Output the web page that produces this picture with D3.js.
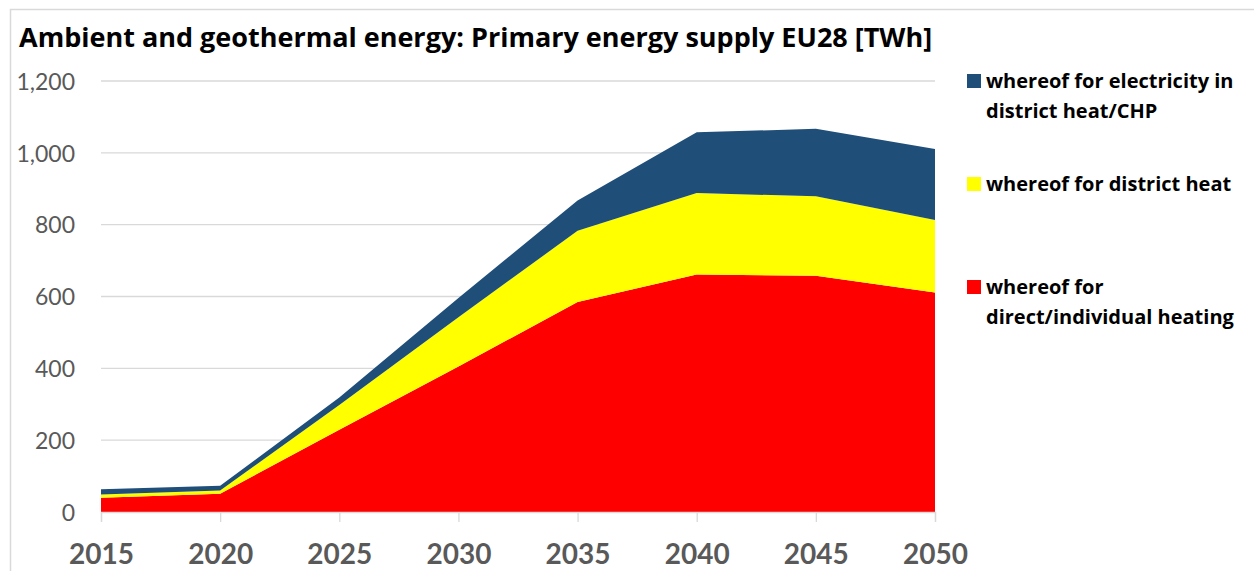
<!DOCTYPE html>
<html><head><meta charset="utf-8">
<script src="https://cdn.jsdelivr.net/npm/d3@7"></script>
<style>body{margin:0;background:#fff}svg{display:block}</style>
</head><body>
<svg id="c" width="1254" height="571"></svg>
<script>
const years = [2015, 2020, 2025, 2030, 2035, 2040, 2045, 2050];
const directHeating = [40, 51, 229, 405, 585, 661, 658, 611];
const districtHeat = [9, 9, 69, 137, 198, 227, 221, 202];
const electricityCHP = [14, 13, 21, 54, 84, 169, 188, 198];
const seriesNames = ["whereof for direct/individual heating", "whereof for district heat", "whereof for electricity in district heat/CHP"];
const seriesColors = ["#FF0000", "#FFFF00", "#1F4E79"];
const yTicks = [0, 200, 400, 600, 800, 1000, 1200];
const titleText = "Ambient and geothermal energy: Primary energy supply EU28 [TWh]";

const svg = d3.select("#c");
const FONT = "Lato, 'Open Sans', sans-serif";
const BFONT = "'Open Sans', Lato, sans-serif";

// border
svg.append("rect").attr("x", 10.5).attr("y", 9.5).attr("width", 1300).attr("height", 700)
  .attr("fill", "none").attr("stroke", "#d9d9d9").attr("stroke-width", 1.5);

const x = d3.scalePoint().domain(years).range([101, 935]);
const y = d3.scaleLinear().domain([0, 1200]).range([512, 81]);

// gridlines
svg.append("g").selectAll("line").data(yTicks).join("line")
  .attr("x1", 101).attr("x2", 935)
  .attr("y1", d => y(d)).attr("y2", d => y(d))
  .attr("stroke", "#d9d9d9").attr("stroke-width", 1.3);

const data = years.map((yr, i) => ({year: yr, a: directHeating[i], b: districtHeat[i], c: electricityCHP[i]}));
const stack = d3.stack().keys(["a", "b", "c"]);
const layers = stack(data);
const area = d3.area().x(d => x(d.data.year)).y0(d => y(d[0])).y1(d => y(d[1]));
svg.append("g").selectAll("path").data(layers).join("path")
  .attr("d", area).attr("fill", (d, i) => seriesColors[i]);

// x axis
const xAxis = d3.axisBottom(x).tickSize(10).tickPadding(12).tickFormat(d3.format("d"));
const gx = svg.append("g").attr("transform", `translate(0,${y(0)})`).call(xAxis);
gx.select(".domain").attr("stroke", "#d9d9d9").attr("stroke-width", 1.3);
gx.selectAll(".tick line").attr("stroke", "#d9d9d9").attr("stroke-width", 1.3);
gx.selectAll(".tick text").attr("font-family", FONT).attr("font-size", 28).attr("font-weight", "bold")
  .attr("fill", "#595959").attr("dy", null).attr("y", 52);

// y axis
const yAxis = d3.axisLeft(y).tickValues(yTicks).tickSize(0).tickPadding(0).tickFormat(d3.format(","));
const gy = svg.append("g").attr("transform", "translate(75,0)").call(yAxis);
gy.select(".domain").remove();
gy.selectAll(".tick text").attr("font-family", FONT).attr("font-size", 23).attr("fill", "#595959")
  .attr("dy", "0.36em");

// title
svg.append("text").attr("x", 19).attr("y", 47).attr("font-family", BFONT).attr("font-size", 27)
  .attr("font-weight", "bold").attr("fill", "#000").text(titleText);

// legend
const legendItems = [
  {lines: ["whereof for electricity in", "district heat/CHP"], color: seriesColors[2], y: 81},
  {lines: ["whereof for district heat"], color: seriesColors[1], y: 184},
  {lines: ["whereof for", "direct/individual heating"], color: seriesColors[0], y: 287}
];
const lg = svg.append("g");
legendItems.forEach(it => {
  lg.append("rect").attr("x", 967).attr("y", it.y - 7).attr("width", 14).attr("height", 14).attr("fill", it.color);
  it.lines.forEach((t, j) => {
    lg.append("text").attr("x", 986).attr("y", it.y + j * 30).attr("dy", "0.36em")
      .attr("font-family", BFONT).attr("font-size", 20).attr("font-weight", "bold").attr("fill", "#000").text(t);
  });
});
</script>
</body></html>
